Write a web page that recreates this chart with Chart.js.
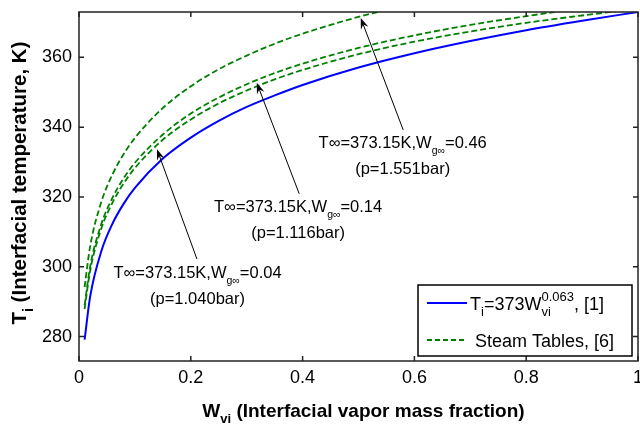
<!doctype html>
<html>
<head>
<meta charset="utf-8">
<title>Interfacial temperature vs vapor mass fraction</title>
<script src="https://cdn.jsdelivr.net/npm/chart.js@4/dist/chart.umd.min.js"></script>
<style>
  body { margin: 0; background: #fff; }
  #wrap { width: 640px; height: 425px; }
</style>
</head>
<body>
<div id="wrap"><canvas id="chart"></canvas></div>
<script>
// axis ticks
var xTicks = [0, 0.2, 0.4, 0.6, 0.8, 1];
var yTicks = [280, 300, 320, 340, 360];

// blue curve, Ti = 373 Wvi^0.063
var wBlue = [0.01, 0.02, 0.04, 0.06, 0.08, 0.10, 0.15, 0.20, 0.25, 0.30, 0.35, 0.40, 0.50, 0.60, 0.70, 0.80, 0.90, 1.00];
var tBlue = [279.1, 291.5, 304.5, 312.4, 318.1, 322.6, 331.0, 337.0, 341.8, 345.8, 349.1, 352.1, 357.1, 361.2, 364.7, 367.8, 370.5, 373.0];

// steam tables, Wg = 0.04 (p = 1.040 bar)
var wSteam1 = [0.01, 0.02, 0.04, 0.06, 0.08, 0.10, 0.15, 0.20, 0.25, 0.30, 0.35, 0.40, 0.50, 0.60, 0.70, 0.80, 0.90, 0.96];
var tSteam1 = [287.9, 298.9, 311.0, 318.4, 323.9, 328.3, 336.4, 342.2, 346.8, 350.5, 353.7, 356.4, 360.9, 364.5, 367.4, 369.9, 372.0, 373.2];

// steam tables, Wg = 0.14 (p = 1.116 bar)
var wSteam2 = [0.01, 0.02, 0.04, 0.06, 0.08, 0.10, 0.15, 0.20, 0.25, 0.30, 0.35, 0.40, 0.50, 0.60, 0.70, 0.80, 0.86];
var tSteam2 = [289.0, 300.1, 312.3, 319.8, 325.4, 329.8, 337.9, 343.9, 348.5, 352.3, 355.5, 358.2, 362.7, 366.3, 369.3, 371.8, 373.2];

// steam tables, Wg = 0.46 (p = 1.551 bar)
var wSteam3 = [0.01, 0.02, 0.04, 0.06, 0.08, 0.10, 0.15, 0.20, 0.25, 0.30, 0.35, 0.40, 0.45, 0.50, 0.54];
var tSteam3 = [294.2, 305.9, 318.6, 326.5, 332.3, 336.9, 345.5, 351.7, 356.6, 360.5, 363.9, 366.8, 369.3, 371.6, 373.2];

var legendLabels = ['Steam Tables, [6]'];

// annotation text and where the arrows point (data units)
var notes = [
  { wg: '0.04', p: '(p=1.040bar)', text: [0.212, 298.5], tail: [0.211, 302.2], tip: [0.1395, 333.7] },
  { wg: '0.14', p: '(p=1.116bar)', text: [0.392, 317.4], tail: [0.394, 320.9], tip: [0.318, 352.7] },
  { wg: '0.46', p: '(p=1.551bar)', text: [0.579, 335.8], tail: [0.580, 339.2], tip: [0.504, 371.3] }
];

var FONT = '"Liberation Sans", Arial, sans-serif';
var BLUE = '#0000ff';
var GREEN = '#008000';

function pts(xs, ys) {
  return xs.map(function (x, i) { return { x: x, y: ys[i] }; });
}

// draw a row of text pieces (sub/superscripts via dy)
function runs(ctx, parts, x, y, align) {
  var w = 0;
  parts.forEach(function (r) { ctx.font = r.f; r.w = ctx.measureText(r.t).width; w += r.w; });
  var cx = align === 'center' ? x - w / 2 : x;
  parts.forEach(function (r) {
    ctx.font = r.f;
    ctx.fillText(r.t, cx, y + (r.dy || 0));
    cx += r.w;
  });
  return cx;
}

function arrow(ctx, x1, y1, x2, y2) {
  var a = Math.atan2(y2 - y1, x2 - x1);
  var c = Math.cos(a), s = Math.sin(a);
  ctx.beginPath();
  ctx.moveTo(x1, y1);
  ctx.lineTo(x2 - 6 * c, y2 - 6 * s);
  ctx.stroke();
  ctx.beginPath();
  ctx.moveTo(x2, y2);
  ctx.lineTo(x2 - 11 * c - 4 * s, y2 - 11 * s + 4 * c);
  ctx.lineTo(x2 - 7 * c, y2 - 7 * s);
  ctx.lineTo(x2 - 11 * c + 4 * s, y2 - 11 * s - 4 * c);
  ctx.closePath();
  ctx.fill();
}

var decor = {
  id: 'decor',
  afterDraw: function (chart) {
    var ctx = chart.ctx, a = chart.chartArea;
    var xs = chart.scales.x, ys = chart.scales.y;
    ctx.save();

    // box and inward ticks
    ctx.strokeStyle = '#222';
    ctx.lineWidth = 1.5;
    ctx.strokeRect(a.left, a.top, a.right - a.left, a.bottom - a.top);
    ctx.beginPath();
    xTicks.forEach(function (v) {
      var px = xs.getPixelForValue(v);
      ctx.moveTo(px, a.bottom); ctx.lineTo(px, a.bottom - 5);
      ctx.moveTo(px, a.top); ctx.lineTo(px, a.top + 5);
    });
    yTicks.forEach(function (v) {
      var py = ys.getPixelForValue(v);
      ctx.moveTo(a.left, py); ctx.lineTo(a.left + 5, py);
      ctx.moveTo(a.right, py); ctx.lineTo(a.right - 5, py);
    });
    ctx.stroke();

    ctx.fillStyle = '#000';
    ctx.textBaseline = 'alphabetic';
    ctx.textAlign = 'left';

    // axis titles
    var bx = 'bold 19px ' + FONT, bs = 'bold 13px ' + FONT;
    runs(ctx, [
      { t: 'W', f: bx }, { t: 'vi', f: bs, dy: 6 },
      { t: ' (Interfacial vapor mass fraction)', f: bx }
    ], (a.left + a.right) / 2 + 5, 417, 'center');

    ctx.save();
    ctx.translate(26, 183);
    ctx.rotate(-Math.PI / 2);
    var by = 'bold 20.5px ' + FONT, byS = 'bold 14px ' + FONT;
    runs(ctx, [
      { t: 'T', f: by }, { t: 'i', f: byS, dy: 7 },
      { t: ' (Interfacial temperature, K)', f: by }
    ], 0, 0, 'center');
    ctx.restore();

    // annotations
    ctx.strokeStyle = '#000';
    ctx.lineWidth = 1;
    var nf = '16.5px ' + FONT, nfs = '10.5px ' + FONT;
    notes.forEach(function (n) {
      arrow(ctx, xs.getPixelForValue(n.tail[0]), ys.getPixelForValue(n.tail[1]),
        xs.getPixelForValue(n.tip[0]), ys.getPixelForValue(n.tip[1]));
      var tx = xs.getPixelForValue(n.text[0]), ty = ys.getPixelForValue(n.text[1]) + 6;
      runs(ctx, [
        { t: 'T\u221e=373.15K,W', f: nf }, { t: 'g\u221e', f: nfs, dy: 6 }, { t: '=' + n.wg, f: nf }
      ], tx, ty, 'center');
      runs(ctx, [{ t: n.p, f: nf }], tx, ty + 26, 'center');
    });

    // legend
    var lw = 214, lh = 71;
    var lx = a.right - 6 - lw, ly = a.bottom - 5 - lh;
    ctx.fillStyle = '#fff';
    ctx.fillRect(lx, ly, lw, lh);
    ctx.strokeStyle = '#000';
    ctx.lineWidth = 1.5;
    ctx.strokeRect(lx, ly, lw, lh);

    var r1 = ly + 18, r2 = ly + 55;
    ctx.lineWidth = 2;
    ctx.strokeStyle = BLUE;
    ctx.beginPath(); ctx.moveTo(lx + 9, r1); ctx.lineTo(lx + 49, r1); ctx.stroke();
    ctx.lineWidth = 1.8;
    ctx.strokeStyle = GREEN;
    ctx.setLineDash([5, 3]);
    ctx.beginPath(); ctx.moveTo(lx + 9, r2); ctx.lineTo(lx + 49, r2); ctx.stroke();
    ctx.setLineDash([]);

    ctx.fillStyle = '#000';
    var lf = '18px ' + FONT, ls = '13px ' + FONT;
    var cx = runs(ctx, [{ t: 'T', f: lf }, { t: 'i', f: ls, dy: 6 }, { t: '=373W', f: lf }], lx + 52, r1 + 6.5, 'left');
    ctx.font = ls;
    ctx.fillText('0.063', cx, r1 - 2);
    ctx.fillText('vi', cx, r1 + 13);
    cx += ctx.measureText('0.063').width;
    runs(ctx, [{ t: ', [1]', f: lf }], cx, r1 + 6.5, 'left');
    runs(ctx, [{ t: legendLabels[0], f: lf }], lx + 57, r2 + 6.5, 'left');

    ctx.restore();
  }
};

new Chart('chart', {
  type: 'line',
  data: {
    datasets: [
      { label: 'Ti=373Wvi^0.063, [1]', data: pts(wBlue, tBlue), borderColor: BLUE, borderWidth: 2 },
      { label: legendLabels[0], data: pts(wSteam1, tSteam1), borderColor: GREEN, borderWidth: 1.8, borderDash: [6, 3] },
      { label: legendLabels[0], data: pts(wSteam2, tSteam2), borderColor: GREEN, borderWidth: 1.8, borderDash: [6, 3] },
      { label: legendLabels[0], data: pts(wSteam3, tSteam3), borderColor: GREEN, borderWidth: 1.8, borderDash: [6, 3] }
    ]
  },
  options: {
    responsive: true,
    maintainAspectRatio: false,
    animation: false,
    elements: {
      point: { radius: 0 },
      line: { cubicInterpolationMode: 'monotone', fill: false }
    },
    layout: { padding: { top: 12, right: 2, left: 0, bottom: 0 } },
    plugins: { legend: { display: false }, tooltip: { enabled: false } },
    scales: {
      x: {
        type: 'linear',
        min: 0,
        max: 1,
        afterBuildTicks: function (s) { s.ticks = xTicks.map(function (v) { return { value: v }; }); },
        afterFit: function (s) { s.height = 64; s.paddingLeft = 0; s.paddingRight = 0; },
        ticks: {
          font: { family: FONT, size: 18 },
          color: '#000',
          padding: 6,
          maxRotation: 0,
          autoSkip: false,
          callback: function (v) { return String(v); }
        },
        grid: { display: false, drawTicks: false },
        border: { display: false }
      },
      y: {
        type: 'linear',
        min: 273,
        max: 373,
        afterBuildTicks: function (s) { s.ticks = yTicks.map(function (v) { return { value: v }; }); },
        afterFit: function (s) { s.width = 79; s.paddingTop = 0; s.paddingBottom = 0; },
        ticks: {
          font: { family: FONT, size: 18 },
          color: '#000',
          padding: 7,
          autoSkip: false
        },
        grid: { display: false, drawTicks: false },
        border: { display: false }
      }
    }
  },
  plugins: [decor]
});
</script>
</body>
</html>
